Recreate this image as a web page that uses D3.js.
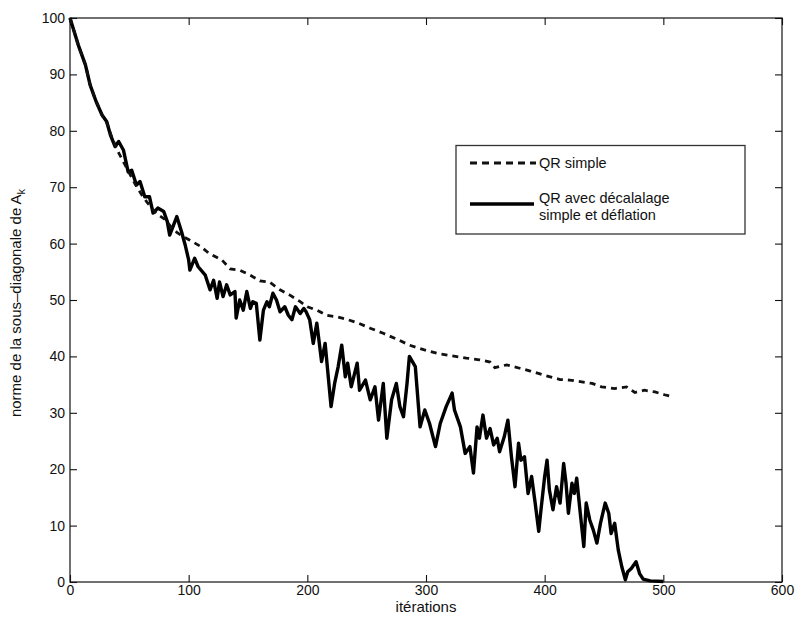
<!DOCTYPE html>
<html>
<head>
<meta charset="utf-8">
<script src="https://cdn.jsdelivr.net/npm/d3@7"></script>
<style>
  html, body { margin: 0; padding: 0; background: #fff; }
  svg { display: block; font-family: "Liberation Sans", Arial, Helvetica, sans-serif; }
</style>
</head>
<body>
<svg id="chart" width="797" height="621"></svg>
<script>
// ---- data ----
const xTicks = [0, 100, 200, 300, 400, 500, 600];
const yTicks = [0, 10, 20, 30, 40, 50, 60, 70, 80, 90, 100];
const seriesNames = ["QR simple", "QR avec décalalage", "simple et déflation"];

// QR simple (dashed)
const simpleIter = [0, 7, 13, 17, 22, 27, 31, 35, 40, 45, 50, 55, 60, 65, 70, 75, 80, 85, 90, 95,
  101, 110, 117, 128, 135, 143, 152, 160, 168, 177, 185, 194, 200, 208, 216, 225, 233, 243, 253, 264,
  277, 286, 298, 310, 322, 334, 345, 354, 358, 368, 379, 388, 399, 413, 421, 440, 448, 459, 469, 476,
  484, 493, 501, 505];
const simpleValue = [100, 95.2, 91.7, 88.1, 85.2, 82.8, 81.4, 79, 76.5, 74.5, 72.5, 70.5, 68.8, 67.3, 66, 65, 64.3, 63, 62, 61.3,
  60.6, 59.5, 58.3, 57.1, 55.5, 55.3, 54.4, 53.4, 53.2, 51.8, 50.9, 49.7, 48.8, 48.2, 47.3, 47, 46.6, 45.9, 45, 44.1,
  42.9, 42, 41.2, 40.5, 40.1, 39.7, 39.4, 39, 38, 38.5, 37.9, 37.4, 36.7, 35.9, 35.8, 35.2, 34.6, 34.3, 34.6, 33.6,
  34, 33.7, 33.2, 33];

// QR avec décalage simple et déflation (solid)
const shiftIter = [0, 7, 13, 17, 22, 27, 31, 34, 38, 41, 45, 49, 52, 56, 59, 63, 67, 70, 74, 79,
  82, 84, 90, 94, 97, 100, 101, 105, 108, 114, 118, 121, 124, 126, 129, 132, 135, 139, 140, 143,
  146, 149, 152, 154, 157, 160, 163, 166, 168, 171, 174, 177, 181, 184, 187, 190, 194, 197, 199, 202,
  205, 208, 212, 215, 220, 223, 226, 229, 232, 234, 237, 242, 244, 249, 253, 257, 260, 264, 267, 271,
  275, 278, 281, 284, 286, 291, 295, 299, 303, 308, 312, 317, 322, 324, 329, 333, 337, 340, 343, 345,
  348, 351, 354, 357, 360, 362, 366, 369, 372, 375, 378, 380, 383, 386, 389, 392, 395, 397, 400, 402,
  404, 407, 410, 413, 416, 418, 420, 423, 425, 427, 430, 433, 435, 438, 441, 444, 447, 451, 454, 456,
  459, 462, 465, 468, 470, 473, 477, 480, 483, 489, 500];
const shiftValue = [100, 95.2, 91.7, 88.1, 85.2, 82.8, 81.6, 79.3, 77.2, 78.1, 76.6, 72.7, 73, 70.4, 71, 68.3, 68.3, 65.4, 66.3, 65.7,
  63.9, 61.5, 64.8, 62.1, 59.8, 57.1, 55.3, 57.4, 55.9, 54.4, 51.8, 53.5, 50.3, 53.2, 50.6, 52.7, 50.9, 51.5, 46.8, 50,
  48.2, 51.5, 48.5, 49.7, 49.4, 42.9, 48.2, 49.7, 48.8, 51.2, 50, 47.9, 48.8, 47.3, 46.5, 48.8, 47.6, 48.5, 47.9, 46.5,
  42.3, 45.9, 39.1, 42.3, 31.1, 35.2, 38.2, 42, 36.4, 38.8, 34.6, 38.8, 34, 35.8, 32.3, 34.6, 28.7, 35.2, 25.5, 32.3,
  35.2, 31.1, 29.3, 35.2, 40, 38.2, 27.5, 30.5, 28.1, 24, 28.1, 31.1, 33.5, 30.5, 27.5, 22.8, 24, 19.3, 27.5, 25.5,
  29.6, 25.5, 27.2, 24.3, 25.5, 23.1, 25.8, 28.7, 22.2, 16.9, 24.6, 21.6, 22.2, 15.7, 18.7, 14, 9, 13, 18.7, 21.6,
  16.3, 12.8, 16.9, 14, 21, 17.5, 12.2, 17.5, 15.7, 18.4, 12.2, 6.3, 14, 11, 9.2, 6.9, 10.4, 14, 12.2, 8.6,
  10.4, 5.7, 2.7, 0.4, 1.8, 2.4, 3.6, 1.5, 0.5, 0.2, 0.1];

// ---- layout ----
const svg = d3.select("#chart");
const pL = 70, pR = 782, pT = 18, pB = 582;
const x = d3.scaleLinear().domain([0, 600]).range([pL, pR]);
const y = d3.scaleLinear().domain([0, 100]).range([pB, pT]);
const tickLen = 7;

// box
svg.append("rect").attr("x", pL).attr("y", pT)
  .attr("width", pR - pL).attr("height", pB - pT)
  .attr("fill", "none").attr("stroke", "#111").attr("stroke-width", 1.2);

// axes (ticks inside)
const axB = svg.append("g").attr("transform", `translate(0,${pB})`)
  .call(d3.axisBottom(x).tickValues(xTicks).tickSize(-tickLen).tickPadding(3));
const axT = svg.append("g").attr("transform", `translate(0,${pT})`)
  .call(d3.axisTop(x).tickValues(xTicks).tickSize(-tickLen).tickFormat(""));
const axL = svg.append("g").attr("transform", `translate(${pL},0)`)
  .call(d3.axisLeft(y).tickValues(yTicks).tickSize(-tickLen).tickPadding(5));
const axR = svg.append("g").attr("transform", `translate(${pR},0)`)
  .call(d3.axisRight(y).tickValues(yTicks).tickSize(-tickLen).tickFormat(""));
[axB, axT, axL, axR].forEach(g => {
  g.select(".domain").remove();
  g.selectAll(".tick line").attr("stroke", "#111").attr("stroke-width", 1.1);
  g.selectAll(".tick text").attr("fill", "#111").style("font-size", "14px")
    .style("font-family", "'Liberation Sans', Arial, sans-serif");
});

// lines
const line = d3.line().x(d => x(d[0])).y(d => y(d[1]));
const simpleData = simpleIter.map((v, i) => [v, simpleValue[i]]);
const shiftData = shiftIter.map((v, i) => [v, shiftValue[i]]);

svg.append("path").datum(shiftData).attr("d", line)
  .attr("fill", "none").attr("stroke", "#000").attr("stroke-width", 3.4)
  .attr("stroke-linejoin", "round");
svg.append("path").datum(simpleData).attr("d", line)
  .attr("fill", "none").attr("stroke", "#111").attr("stroke-width", 2.8)
  .attr("stroke-dasharray", "6,5");

// axis labels
svg.append("text").attr("x", (pL + pR) / 2).attr("y", 612)
  .attr("text-anchor", "middle").style("font-size", "15px").attr("fill", "#111")
  .text("itérations");
const yl = svg.append("text").attr("transform", "translate(21,303) rotate(-90)")
  .attr("text-anchor", "middle").style("font-size", "15px").attr("fill", "#111");
yl.append("tspan").text("norme de la sous–diagonale de A");
yl.append("tspan").attr("dy", 4).style("font-size", "11px").text("k");

// legend
const lg = svg.append("g");
lg.append("rect").attr("x", 456).attr("y", 145.5).attr("width", 289).attr("height", 88.5)
  .attr("fill", "#fff").attr("stroke", "#333").attr("stroke-width", 1.3);
lg.append("line").attr("x1", 470).attr("x2", 536).attr("y1", 163).attr("y2", 163)
  .attr("stroke", "#111").attr("stroke-width", 2.8).attr("stroke-dasharray", "7,5");
lg.append("text").attr("x", 539).attr("y", 168).style("font-size", "14.5px").attr("fill", "#111")
  .text(seriesNames[0]);
lg.append("line").attr("x1", 470).attr("x2", 534).attr("y1", 204).attr("y2", 204)
  .attr("stroke", "#000").attr("stroke-width", 3.4);
lg.append("text").attr("x", 539).attr("y", 202.5).style("font-size", "14.5px").attr("fill", "#111")
  .text(seriesNames[1]);
lg.append("text").attr("x", 539).attr("y", 219.5).style("font-size", "14.5px").attr("fill", "#111")
  .text(seriesNames[2]);
</script>
</body>
</html>
